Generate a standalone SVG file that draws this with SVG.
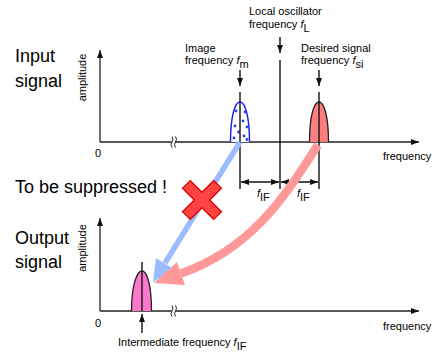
<svg xmlns="http://www.w3.org/2000/svg" width="444" height="352" viewBox="0 0 444 352">
<style>
.big{font-family:"Liberation Sans",Arial,sans-serif;font-size:18px;fill:#000}
.sm{font-family:"Liberation Sans",Arial,sans-serif;font-size:11px;fill:#000}
.it{font-style:italic}
.ax{stroke:#222;stroke-width:1.3;fill:none}
.ln{stroke:#111;stroke-width:1.4;fill:none}
.brk{stroke:#222;stroke-width:1;fill:none}
</style>
<defs>
<marker id="ah" markerUnits="userSpaceOnUse" markerWidth="9" markerHeight="7" refX="8" refY="3" orient="auto-start-reverse"><path d="M0,0 L8,3 L0,6 z" fill="#111"/></marker>
</defs>
<rect width="444" height="352" fill="#fff"/>

<g id="input-label">
<text class="big" x="15" y="62">Input</text>
<text class="big" x="15" y="87">signal</text>
<text class="sm" transform="translate(86,77.5) rotate(-90)" text-anchor="middle">amplitude</text>
</g>

<g id="input-axes">
<line class="ax" x1="100" y1="142" x2="100" y2="50" marker-end="url(#ah)"/>
<line class="ax" x1="100" y1="142" x2="419" y2="142" marker-end="url(#ah)"/>
<rect x="171.5" y="139" width="4" height="6" fill="#fff"/>
<path class="brk" d="M172,147.5 q-2,-2.75 0,-5.5 q2,-2.75 0,-5.5"/>
<path class="brk" d="M175.5,147.5 q-2,-2.75 0,-5.5 q2,-2.75 0,-5.5"/>
<text class="sm" x="98" y="157" text-anchor="middle">0</text>
<text class="sm" x="383" y="160">frequency</text>
</g>

<g id="image-peak">
<path d="M230.5,142 C230.5,116 235,102 240,102 C245,102 249.5,116 249.5,142" fill="#fff" stroke="#1a1aee" stroke-width="1.4"/>
<g fill="#2244ee">
<circle cx="236" cy="111" r="1.4"/><circle cx="245" cy="112" r="1.4"/>
<circle cx="243" cy="121" r="1.4"/><circle cx="235" cy="126" r="1.4"/>
<circle cx="247" cy="127" r="1.4"/><circle cx="238.5" cy="132" r="1.4"/>
<circle cx="244" cy="136" r="1.4"/><circle cx="234" cy="138" r="1.4"/>
<circle cx="247" cy="139.5" r="1.4"/>
</g>
<line class="ln" x1="240" y1="70" x2="240" y2="86" marker-end="url(#ah)"/>
<line class="ln" x1="240" y1="92" x2="240" y2="189"/>
<text class="sm" x="185" y="52">Image</text>
<text class="sm" x="185" y="64">frequency <tspan class="it">f</tspan><tspan dy="4">m</tspan></text>
</g>

<g id="local-oscillator">
<line class="ln" x1="280" y1="37" x2="280" y2="53" marker-end="url(#ah)"/>
<line class="ln" x1="280" y1="60" x2="280" y2="189"/>
<text class="sm" x="249" y="15">Local oscillator</text>
<text class="sm" x="249" y="28">frequency <tspan class="it">f</tspan><tspan dy="4">L</tspan></text>
</g>

<g id="desired-peak">
<path d="M309.5,142 C309.5,116 314,102 319,102 C324,102 328.5,116 328.5,142" fill="#ff7f7f" stroke="#222" stroke-width="1.3"/>
<line class="ln" x1="319" y1="70" x2="319" y2="86" marker-end="url(#ah)"/>
<line class="ln" x1="319" y1="92" x2="319" y2="189"/>
<text class="sm" x="301" y="52">Desired signal</text>
<text class="sm" x="301" y="64">frequency <tspan class="it">f</tspan><tspan dy="4">si</tspan></text>
</g>

<g id="if-dimension">
<line class="ln" x1="241" y1="182" x2="279" y2="182" marker-start="url(#ah)" marker-end="url(#ah)"/>
<line class="ln" x1="281" y1="182" x2="318" y2="182" marker-start="url(#ah)" marker-end="url(#ah)"/>
<text class="sm" x="257" y="197"><tspan class="it">f</tspan><tspan dy="4">IF</tspan></text>
<text class="sm" x="297" y="197"><tspan class="it">f</tspan><tspan dy="4">IF</tspan></text>
</g>

<g id="suppressed-label">
<text class="big" x="15" y="193">To be suppressed !</text>
</g>

<g id="output-label">
<text class="big" x="15" y="244">Output</text>
<text class="big" x="15" y="268">signal</text>
<text class="sm" transform="translate(86,248) rotate(-90)" text-anchor="middle">amplitude</text>
</g>

<g id="output-axes">
<line class="ax" x1="100" y1="311" x2="100" y2="218" marker-end="url(#ah)"/>
<line class="ax" x1="100" y1="311" x2="419" y2="311" marker-end="url(#ah)"/>
<rect x="171.5" y="308" width="4" height="6" fill="#fff"/>
<path class="brk" d="M172,316.5 q-2,-2.75 0,-5.5 q2,-2.75 0,-5.5"/>
<path class="brk" d="M175.5,316.5 q-2,-2.75 0,-5.5 q2,-2.75 0,-5.5"/>
<text class="sm" x="98" y="327" text-anchor="middle">0</text>
<text class="sm" x="383" y="330">frequency</text>
</g>

<g id="output-peak">
<path d="M131.5,311 C131.5,285 137,271 142,271 C147,271 151.5,285 151.5,311" fill="#ff77cc" stroke="#222" stroke-width="1.3"/>
<line class="ln" x1="142" y1="262" x2="142" y2="311"/>
<line class="ln" x1="142" y1="333" x2="142" y2="314" marker-end="url(#ah)"/>
<text class="sm" x="118" y="346">Intermediate frequency <tspan class="it">f</tspan><tspan dy="4">IF</tspan></text>
</g>

<g id="connectors">
<g id="image-to-output">
<line x1="240" y1="142" x2="165" y2="263" stroke="#9dbcff" stroke-width="5.5"/>
<polygon points="153,282 156,258 174,269" fill="#9dbcff"/>
</g>
<g id="desired-to-output">
<path d="M318,145 C295,178 262,245 181,273.5" fill="none" stroke="#ff9999" stroke-width="8.5"/>
<polygon points="154,283 177,262 185,285" fill="#ff9999"/>
</g>
</g>

<g id="x-mark">
<polygon transform="translate(202,200) rotate(45)" points="-5.5,-22 5.5,-22 5.5,-5.5 22,-5.5 22,5.5 5.5,5.5 5.5,22 -5.5,22 -5.5,5.5 -22,5.5 -22,-5.5 -5.5,-5.5" fill="#ff4444" stroke="#e00000" stroke-width="1.3"/>
</g>
</svg>
